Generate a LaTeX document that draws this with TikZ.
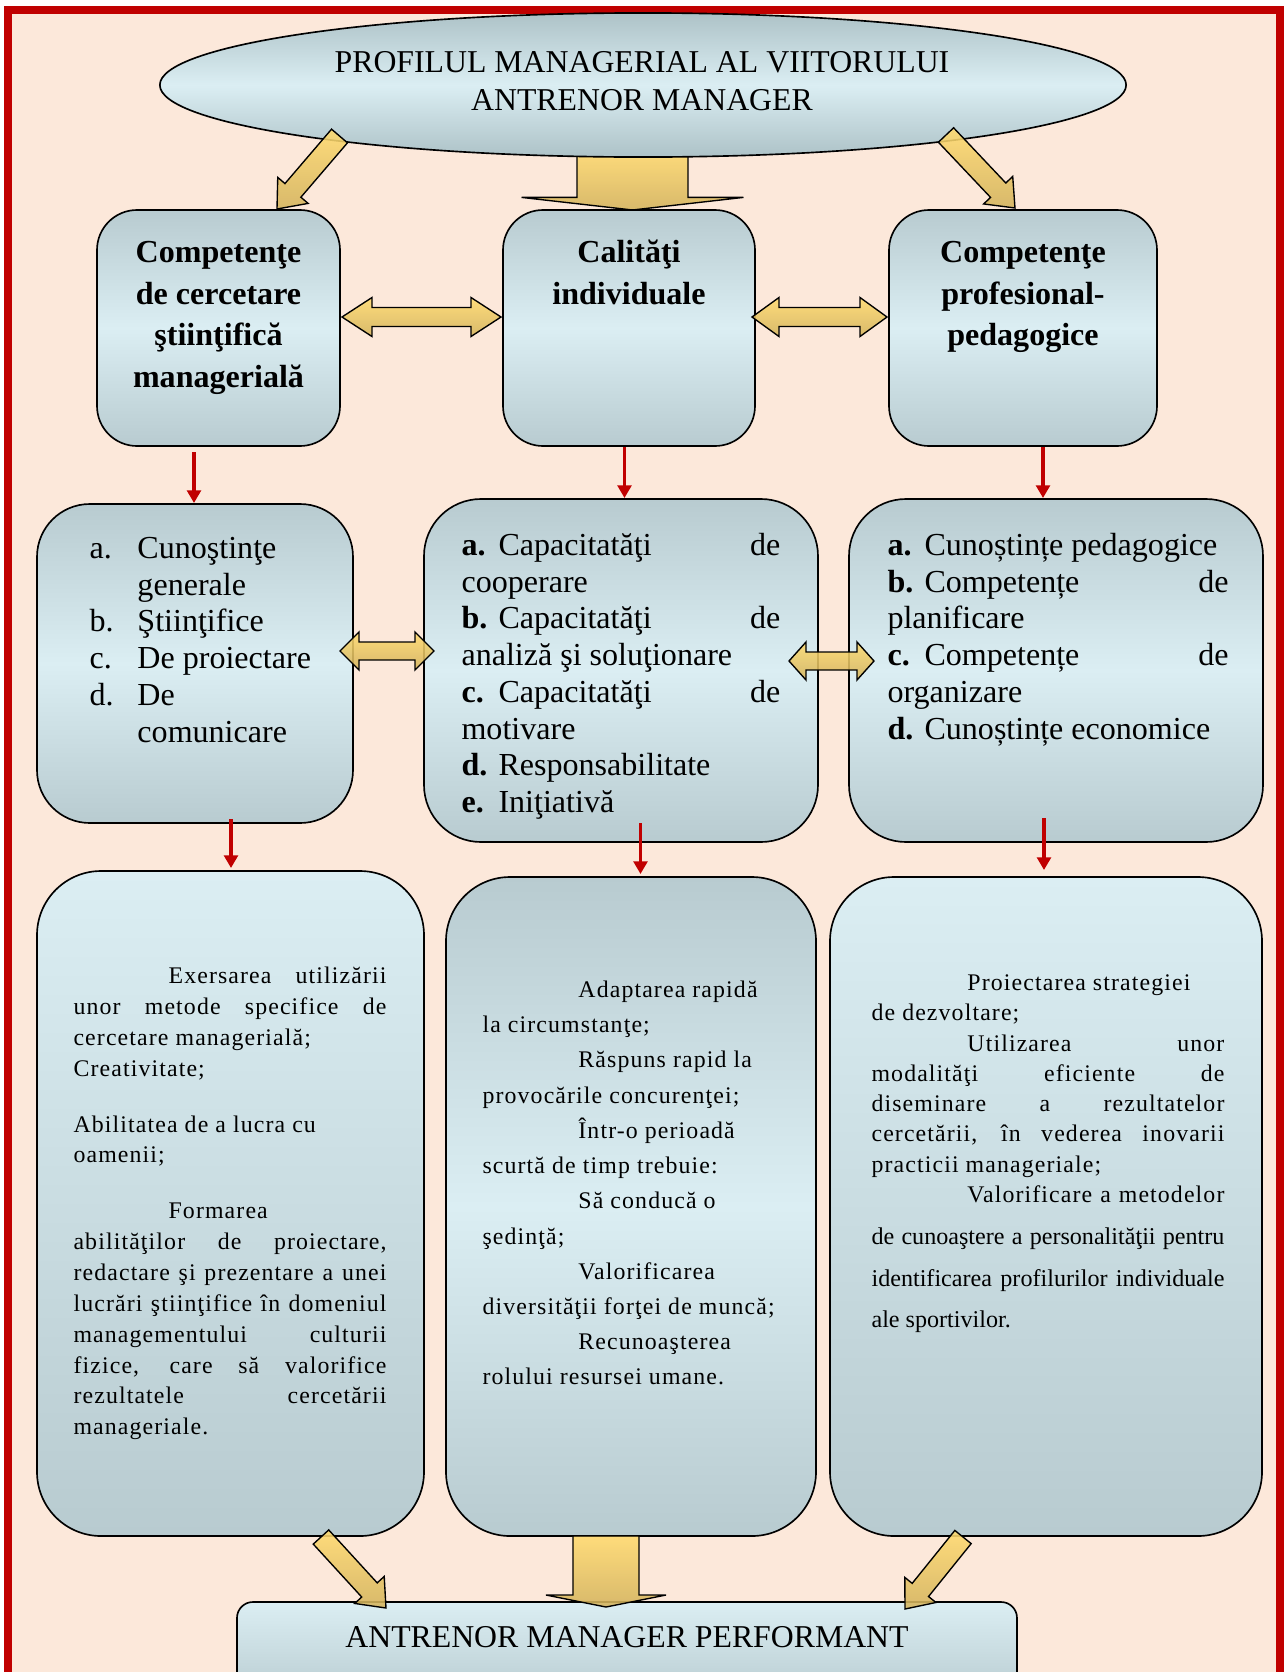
\documentclass[tikz,border=0pt]{standalone}
\usepackage{fontspec}
\setmainfont{Liberation Serif}
\newfontfamily\lsfont[LetterSpace=4.7]{Liberation Serif}
\usetikzlibrary{calc,fit,shapes.geometric,arrows.meta}
\definecolor{peach}{HTML}{FCE8DA}
\definecolor{redc}{HTML}{C00000}
\definecolor{bxlight}{HTML}{DBEEF3}
\definecolor{bxdark}{HTML}{B8CBD0}
\definecolor{eldark}{HTML}{ADC2C7}
\definecolor{ytop}{HTML}{FFDA6E}
\definecolor{ybot}{HTML}{D3B35C}
\newcommand\lbl[1]{\makebox[13.5pt][l]{\textbf{#1}}}
\newcommand\lblr[1]{\makebox[17.5pt][l]{#1}}
\newcommand\blockarr[5]{%
  \coordinate (ba-h) at ($(#2)!#5!(#1)$);
  \path[yarrow] ($(#1)!#3!90:(#2)$) -- ($(ba-h)!#3!90:(#2)$) -- ($(ba-h)!#4!90:(#2)$) -- (#2)
     -- ($(ba-h)!#4!-90:(#2)$) -- ($(ba-h)!#3!-90:(#2)$) -- ($(#1)!#3!-90:(#2)$) -- cycle;}
\newcommand\dblarr[5]{%
  \path[yarrow] (#1) -- ($(#1)+(#5,-#4)$) -- ($(#1)+(#5,-#3)$) -- ($(#2)+(-#5,-#3)$) -- ($(#2)+(-#5,-#4)$)
     -- (#2) -- ($(#2)+(-#5,#4)$) -- ($(#2)+(-#5,#3)$) -- ($(#1)+(#5,#3)$) -- ($(#1)+(#5,#4)$) -- cycle;}
\tikzset{
  yarrow/.style={draw=black, line width=0.5pt, top color=ytop, bottom color=ybot, fill opacity=0.88},
  boxA/.style={draw=black, line width=0.6pt, inner sep=0pt, top color=bxdark, bottom color=bxdark, middle color=bxlight},
  boxB/.style={draw=black, line width=0.6pt, inner sep=0pt, top color=bxlight, bottom color=bxdark},
  redarr/.style={draw=redc, line width=1.3pt, -{Triangle[width=5pt,length=4.6pt]}},
  txtl/.style={anchor=north west, inner sep=0pt, align=left},
  txtc/.style={anchor=north, inner sep=0pt, align=center}
}
\begin{document}
\begin{tikzpicture}[x=0.365pt, y=-0.365pt]
\useasboundingbox (0,0) rectangle (1284,1672);
\clip (0,0) rectangle (1284,1672);
\fill[white] (0,0) rectangle (1284,1672);
\draw[draw=redc, line width=2.92pt, fill=peach] (8,10) rectangle (1280,1730);

% top centre arrow (behind ellipse)
\coordinate (ta2) at (632.5,150);
\coordinate (tb2) at (632.5,210);
\blockarr{ta2}{tb2}{20.26pt}{40.5pt}{4.6pt}

\node[ellipse, draw=black, line width=0.6pt, inner sep=0pt, minimum width=352.7pt, minimum height=52.6pt,
      top color=eldark, bottom color=eldark, middle color=bxlight] (el) at (643,85) {};

\coordinate (ta1) at (339.5,136);
\coordinate (tb1) at (277,209);
\blockarr{ta1}{tb1}{3.83pt}{7.3pt}{8.94pt}
\coordinate (ta3) at (946,135);
\coordinate (tb3) at (1015,208);
\blockarr{ta3}{tb3}{3.83pt}{7.3pt}{8.94pt}

% row 1
\node[boxA, rounded corners=14.6pt, fit={(97,210)(340,446)}] (b1) {};
\node[boxA, rounded corners=14.6pt, fit={(503,210)(755,446)}] (b2) {};
\node[boxA, rounded corners=14.6pt, fit={(889,210)(1157,446)}] (b3) {};
\coordinate (d1l) at (342,317); \coordinate (d1r) at (501,317);
\dblarr{d1l}{d1r}{9.5}{19.5}{30}
\coordinate (d2l) at (752,317); \coordinate (d2r) at (887,317);
\dblarr{d2l}{d2r}{9.5}{19.5}{27}

\coordinate (r1a) at (194,452); \coordinate (r1b) at (194,503);
\coordinate (r2a) at (624.5,447); \coordinate (r2b) at (624.5,498);
\coordinate (r3a) at (1043,447); \coordinate (r3b) at (1043,498);
\draw[redarr] (r1a) -- (r1b);
\draw[redarr] (r2a) -- (r2b);
\draw[redarr] (r3a) -- (r3b);

% row 2
\node[boxA, rounded corners=19.3pt, fit={(37,504)(353,823)}] (b4) {};
\node[boxA, rounded corners=20.8pt, fit={(424,499)(818,842)}] (b5) {};
\node[boxA, rounded corners=20.8pt, fit={(849,499)(1263,842)}] (b6) {};
\coordinate (d3l) at (340,651); \coordinate (d3r) at (434,651);
\dblarr{d3l}{d3r}{9}{19}{19}
\coordinate (d4l) at (789,661); \coordinate (d4r) at (874,661);
\dblarr{d4l}{d4r}{9}{19}{17}

% row 3
\node[boxB, rounded corners=23.4pt, fit={(37,871)(424,1536)}] (b7) {};
\node[boxA, rounded corners=23.4pt, fit={(446,877)(816,1536)}] (b8) {};
\node[boxB, rounded corners=23.4pt, fit={(830,877)(1262,1536)}] (b9) {};

\coordinate (r4a) at (231,819); \coordinate (r4b) at (231,868);
\coordinate (r5a) at (640.5,823); \coordinate (r5b) at (640.5,874);
\coordinate (r6a) at (1044,818); \coordinate (r6b) at (1044,870);
\draw[redarr] (r4a) -- (r4b);
\draw[redarr] (r5a) -- (r5b);
\draw[redarr] (r6a) -- (r6b);

% bottom box
\node[boxB, rounded corners=5.8pt, fit={(237,1602)(1017,1700)}] (bot) {};
\coordinate (ba1) at (321,1537); \coordinate (bb1) at (386,1608);
\blockarr{ba1}{bb1}{3.83pt}{7.3pt}{8.94pt}
\coordinate (ba2) at (606,1536); \coordinate (bb2) at (606,1607);
\blockarr{ba2}{bb2}{12.05pt}{21.9pt}{4.38pt}
\coordinate (ba3) at (963,1537); \coordinate (bb3) at (905,1609);
\blockarr{ba3}{bb3}{3.83pt}{7.3pt}{8.94pt}

% texts
\node[txtc, yshift=10pt, font=\fontsize{11.6}{13.9}\selectfont] (ttitle) at (642,72)
  {\rule{0pt}{10pt}PROFILUL MANAGERIAL AL VIITORULUI\\ANTRENOR MANAGER};

\node[txtc, yshift=11pt, font=\bfseries\fontsize{11.7}{15.2}\selectfont] (t1) at (218.5,262)
  {\rule{0pt}{11pt}Competenţe\\de cercetare\\ştiinţifică\\managerială};
\node[txtc, yshift=11pt, font=\bfseries\fontsize{11.7}{15.2}\selectfont] (t2) at (629,262)
  {\rule{0pt}{11pt}Calităţi\\individuale};
\node[txtc, yshift=11pt, font=\bfseries\fontsize{11.7}{15.2}\selectfont] (t3) at (1023,262)
  {\rule{0pt}{11pt}Competenţe\\profesional-\\pedagogice};

\node[txtl, yshift=11pt, font=\fontsize{11.7}{13.4}\selectfont] (t4) at (89,558)
  {\rule{0pt}{11pt}\lblr{a.}Cunoştinţe\\
   \hspace*{17.5pt}generale\\
   \lblr{b.}Ştiinţifice\\
   \lblr{c.}De proiectare\\
   \lblr{d.}De\\
   \hspace*{17.5pt}comunicare};

\node[txtl, yshift=11pt, font=\fontsize{11.7}{13.4}\selectfont] (t5) at (461,555)
  {\rule{0pt}{11pt}\makebox[116.4pt][l]{\lbl{a.}Capacitatăţi\hfill de}\\
   cooperare\\
   \makebox[116.4pt][l]{\lbl{b.}Capacitatăţi\hfill de}\\
   analiză şi soluţionare\\
   \makebox[116.4pt][l]{\lbl{c.}Capacitatăţi\hfill de}\\
   motivare\\
   \lbl{d.}Responsabilitate\\
   \lbl{e.}Iniţiativă};

\node[txtl, yshift=11pt, font=\fontsize{11.7}{13.4}\selectfont] (t6) at (887,555)
  {\rule{0pt}{11pt}\lbl{a.}Cunoștințe pedagogice\\
   \makebox[124.5pt][l]{\lbl{b.}Competențe\hfill de}\\
   planificare\\
   \makebox[124.5pt][l]{\lbl{c.}Competențe\hfill de}\\
   organizare\\
   \lbl{d.}Cunoștințe economice};

\node[txtl, yshift=9pt, font=\lsfont\fontsize{8.7}{11.25}\selectfont] (t7) at (73,983)
  {\rule{0pt}{9pt}\makebox[114.2pt][s]{\hspace*{34.7pt}Exersarea utilizării}\\
   \makebox[114.2pt][s]{unor metode specifice de}\\
   cercetare managerială;\\
   Creativitate;\\[9.2pt]
   Abilitatea de a lucra cu\\
   oamenii;\\[9.2pt]
   \hspace*{34.7pt}Formarea\\
   \makebox[114.2pt][s]{abilităţilor de proiectare,}\\
   \makebox[114.2pt][s]{redactare şi prezentare a unei}\\
   \makebox[114.2pt][s]{lucrări ştiinţifice în domeniul}\\
   \makebox[114.2pt][s]{managementului culturii}\\
   \makebox[114.2pt][s]{fizice, care să valorifice}\\
   \makebox[114.2pt][s]{rezultatele cercetării}\\
   manageriale.};

\node[txtl, yshift=9pt, font=\lsfont\fontsize{8.7}{12.85}\selectfont] (t8) at (482,997)
  {\rule{0pt}{9pt}\hspace*{35pt}Adaptarea rapidă\\
   la circumstanţe;\\
   \hspace*{35pt}Răspuns rapid la\\
   provocările concurenţei;\\
   \hspace*{35pt}Într-o perioadă\\
   scurtă de timp trebuie:\\
   \hspace*{35pt}Să conducă o\\
   şedinţă;\\
   \hspace*{35pt}Valorificarea\\
   diversităţii forţei de muncă;\\
   \hspace*{35pt}Recunoaşterea\\
   rolului resursei umane.};

\node[txtl, yshift=9pt, font=\lsfont\fontsize{8.7}{11.05}\selectfont] (t9) at (871,990)
  {\rule{0pt}{9pt}\hspace*{35pt}Proiectarea strategiei\\
   de dezvoltare;\\
   \makebox[128.8pt][s]{\hspace*{35pt}Utilizarea unor}\\
   \makebox[128.8pt][s]{modalităţi eficiente de}\\
   \makebox[128.8pt][s]{diseminare a rezultatelor}\\
   \makebox[128.8pt][s]{cercetării, în vederea inovarii}\\
   practicii manageriale;\\
   \makebox[128.8pt][s]{\hspace*{35pt}Valorificare a metodelor}};
\node[txtl, yshift=9pt, font=\fontsize{8.8}{15.15}\selectfont] (t9b) at (871,1244)
  {\rule{0pt}{9pt}\makebox[128.8pt][s]{de cunoaştere a personalităţii pentru}\\
   \makebox[128.8pt][s]{identificarea profilurilor individuale}\\
   ale sportivilor.};

\node[txtc, yshift=10pt, font=\fontsize{11.6}{13.9}\selectfont] (tbot) at (627,1647)
  {\rule{0pt}{10pt}ANTRENOR MANAGER PERFORMANT};
\end{tikzpicture}
\end{document}
